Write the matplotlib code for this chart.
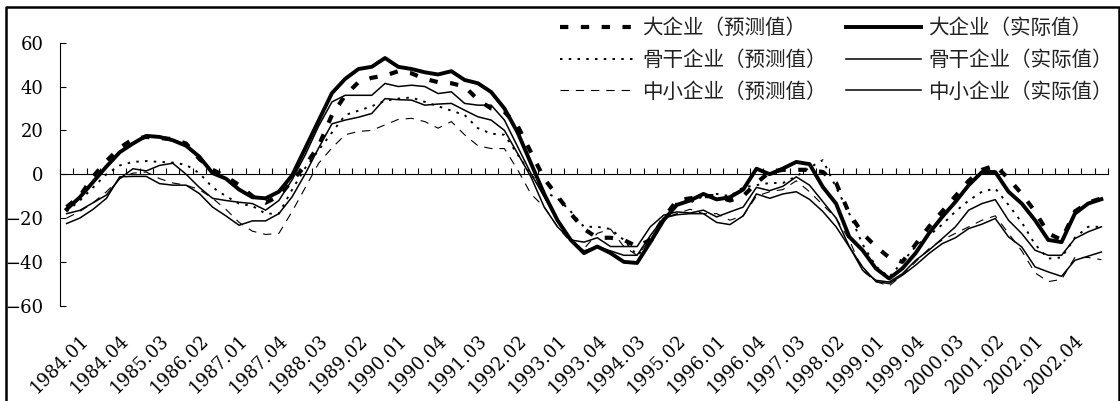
import matplotlib
matplotlib.use("Agg")
import matplotlib.pyplot as plt
from matplotlib.lines import Line2D
from matplotlib.transforms import ScaledTranslation

plt.rcParams['font.family'] = ['DejaVu Serif', 'Noto Sans CJK SC']
plt.rcParams['lines.scale_dashes'] = False

# quarterly series, 1984.01 - 2003.03
large_pred = [-15, -10, -1, 6, 12, 16, 17, 16.5, 16, 14,
              7, 2, -1, -5, -10, -13, -10, -3, 4, 13,
              27, 36, 42, 44, 45, 47, 46, 43.5, 42, 41.5,
              40, 34, 30, 28.5, 22, 10, -2, -10, -18, -25,
              -29, -29, -30, -33, -30, -20, -12, -11, -10, -10,
              -12, -10, -4, 1, 2, 2, 2, 1, -4, -18,
              -27, -33, -38, -40, -32, -24, -17, -10, -3, 2,
              4, -2, -9, -17, -27, -30, -17, -13, -11]
large_act = [-16, -10.5, -3.5, 3.5, 10, 14, 17.5, 17, 15.5, 13,
             8, 0.5, -2, -7, -10.5, -11, -8, -0.5, 12, 24.5,
             37, 43.5, 48, 49, 53, 49, 48, 46.5, 45.5, 47,
             43, 41.5, 37.5, 30, 19, 5, -9, -21, -30, -36,
             -33, -36, -40, -40.5, -31, -21, -14, -12, -9, -11.5,
             -10.5, -7, 2.5, 0, 2.6, 5.6, 4.6, -5.8, -13.4, -28.6,
             -34.7, -43, -47.6, -43, -36, -27, -19.5, -12.6, -5, 1,
             1, -8, -13.4, -21, -30, -31, -18, -13.4, -11.4]
core_pred = [-17, -12, -6, 0, 4, 5.6, 6, 5.6, 5.3, 4.3,
             0.5, -6, -10, -13.4, -14.5, -18, -18, -7, 3, 11,
             19, 27, 29, 31, 33.5, 34.5, 35, 33, 31, 29,
             27, 21, 18.5, 18, 9, 0, -8, -11, -17, -24,
             -24, -25, -30, -37, -32, -21, -13, -13, -10, -9,
             -10, -6, -5, -4, -4, -1, 3, 6.4, -6, -18,
             -32, -42, -47, -40, -33, -28, -23, -17, -12, -8,
             -6.5, -14, -22, -32, -38.5, -38, -29, -24, -24]
core_act = [-18, -16.5, -13, -9.5, -2, 2.5, 1.5, 4, 5, 0,
            -6, -11, -12, -12.8, -13.4, -16.4, -12, -2.5, 9, 22,
            33, 36, 36, 36, 41.4, 40, 40.6, 40, 36.8, 37.6,
            32.3, 31.5, 31.5, 24.7, 12.5, 0.3, -10.3, -21, -30, -31,
            -29, -33, -33, -33, -24, -18.7, -17.2, -17.7, -16.4, -19.5,
            -17.2, -15, -6, -7.5, -5.5, -1.2, -5, -12.5, -20, -33,
            -43.8, -48.4, -49.2, -45.4, -39.3, -34.7, -29.4, -24, -16.4, -13.4,
            -11.6, -21, -27.1, -34.7, -37, -37, -29.4, -26.3, -24]
small_pred = [-20, -17, -13, -8, -2, 0.5, 1, -2, -4, -5,
              -7, -11, -16, -22, -26, -27.5, -27, -17, -6, 5,
              12, 18, 19.5, 20, 22.5, 25, 25.5, 24, 21, 24,
              18, 13, 11.7, 11.7, 2, -9, -15, -24, -31, -34,
              -27, -25, -33, -37, -30, -20, -18, -16, -18, -18,
              -21, -19, -10, -8, -7, -3, -8, -14, -20, -30,
              -44, -49, -51, -46, -40, -34, -30, -27, -24, -21,
              -19, -27, -35, -45, -49, -48, -38, -38, -39]
small_act = [-22.5, -20, -16, -11, -1.2, -1, -1, -4.3, -5, -5,
             -8.8, -15, -19, -23.3, -21.3, -21.3, -18, -10.3, 0.3, 12,
             23, 24.7, 26, 27.7, 34.5, 34, 33.8, 31.5, 32, 32.3,
             29.2, 26.2, 24.7, 20, 9.4, -1.2, -15, -24, -30, -35,
             -33, -35, -37, -37, -28, -20, -18.5, -18, -18, -22,
             -23, -19, -9, -11, -9, -8, -11.5, -17, -24, -33.2,
             -42.3, -49, -49.9, -46.1, -41.5, -36.2, -31.7, -29, -24.8, -22.8,
             -20.2, -28.6, -33.2, -42.3, -44.6, -46.6, -39.3, -37.4, -35.5]

tick_labels = ['1984.01', '1984.04', '1985.03', '1986.02', '1987.01', '1987.04',
               '1988.03', '1989.02', '1990.01', '1990.04', '1991.03', '1992.02',
               '1993.01', '1993.04', '1994.03', '1995.02', '1996.01', '1996.04',
               '1997.03', '1998.02', '1999.01', '1999.04', '2000.03', '2001.02',
               '2002.01', '2002.04']

n = len(large_act)
x = list(range(n))

fig = plt.figure(figsize=(11.2, 4.01), dpi=100)
ax = fig.add_axes([60 / 1120, 1 - 305.7 / 401, 1048 / 1120, 263 / 401])

ax.plot(x, small_pred, color='black', lw=0.8, dashes=(6, 5), label='中小企业（预测值）')
ax.plot(x, core_pred, color='black', lw=1.4, dashes=(1.8, 4.5), label='骨干企业（预测值）')
ax.plot(x, large_pred, color='black', lw=3.0, dashes=(6, 9), label='大企业（预测值）')
ax.plot(x, small_act, color='black', lw=1.1, label='中小企业（实际值）')
ax.plot(x, core_act, color='black', lw=1.1, label='骨干企业（实际值）')
ax.plot(x, large_act, color='black', lw=2.8, label='大企业（实际值）')

ax.set_xlim(-0.5, n - 0.5)
ax.set_ylim(-60, 60)
ax.set_yticks(range(-60, 61, 20))
ax.tick_params(axis='y', direction='in', length=4.5, width=0.8, labelsize=13, pad=12)

# category axis drawn through zero
ax.spines['bottom'].set_position(('data', 0))
ax.spines['top'].set_visible(False)
ax.spines['right'].set_visible(False)
ax.spines['left'].set_linewidth(0.8)
ax.spines['bottom'].set_linewidth(0.8)
ax.set_xticks([k - 0.5 for k in range(n + 1)])
ax.tick_params(axis='x', direction='in', length=4, width=0.8, labelbottom=False)

labels = []
for j, lab in enumerate(tick_labels):
    t = ax.text(j * 3, 0, lab, transform=ax.get_xaxis_transform(),
                rotation=45, rotation_mode='anchor', ha='right', va='top', fontsize=13)
    labels.append(t)

# put the end of each rotated label a little right of its category, below the plot
fig.canvas.draw()
bb = labels[0].get_window_extent(fig.canvas.get_renderer())
cx = ax.transData.transform((0, 0))[0]
dx = (cx + 26) - bb.x1
dy = (401 - 331) - bb.y1
shift = ScaledTranslation(dx / fig.dpi, dy / fig.dpi, fig.dpi_scale_trans)
for t in labels:
    t.set_transform(ax.get_xaxis_transform() + shift)

h, l = ax.get_legend_handles_labels()
order = [2, 1, 0, 5, 4, 3]
ax.legend([h[k] for k in order], [l[k] for k in order], ncol=2, frameon=False,
          loc='upper left', bbox_to_anchor=(560 / 1120, 1 - 18.5 / 401),
          bbox_transform=fig.transFigure, fontsize=14.8, handlelength=3.65,
          handletextpad=0.34, columnspacing=0.97, labelspacing=0.59, borderpad=0,
          borderaxespad=0, labelcolor='#222222')

fig.add_artist(Line2D([5.5 / 1120, 5.5 / 1120, 1118.5 / 1120, 1118.5 / 1120],
                      [-0.01, 1 - 6.5 / 401, 1 - 6.5 / 401, -0.01],
                      transform=fig.transFigure, color='black', lw=1.8))

fig.savefig('out.png', dpi=100)
